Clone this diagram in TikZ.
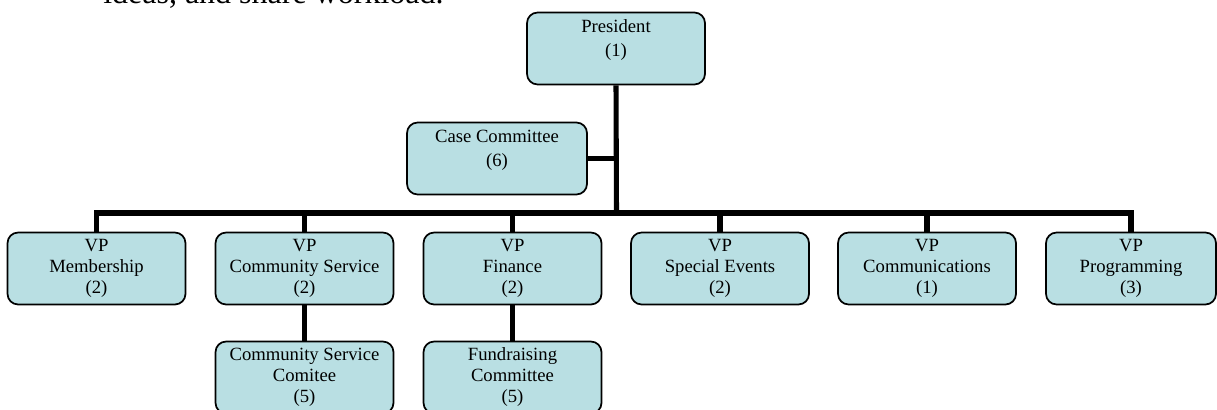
\documentclass[tikz,border=0pt]{standalone}
\usepackage{fontspec}
\setmainfont{Liberation Serif}
\definecolor{paleteal}{HTML}{B9DFE3}

\begin{document}
\begin{tikzpicture}[x=0.75pt, y=-0.75pt,
    office/.style={draw, line width=1.3pt, rounded corners=8pt, fill=paleteal,
      minimum width=133.5pt, minimum height=54pt, align=center, inner sep=2pt,
      font=\fontsize{14}{15.75}\selectfont},
    twoline/.style={font=\fontsize{14}{18}\selectfont, text depth=15.5pt},
    wire/.style={line width=3.8pt}]
  \path [use as bounding box, clip] (0, 0) rectangle (1217, 410);
  \node [anchor=base west, inner sep=0pt, font=\fontsize{24}{28}\selectfont] (intro) at (103, 4) {ideas, and share workload.};
  % top of the chart
  \node [office, twoline] (pres) at (616, 48.5) {President\\(1)};
  \node [office, twoline, minimum width=135pt] (case) at (497, 158.5) {Case Committee\\(6)};
  % vice presidents
  \node [office] (mem) at (96.5, 268.5) {VP\\Membership\\(2)};
  \node [office] (comm) at (304.5, 268.5) {VP\\Community Service\\(2)};
  \node [office] (fin) at (512.5, 268.5) {VP\\Finance\\(2)};
  \node [office] (spec) at (720, 268.5) {VP\\Special Events\\(2)};
  \node [office] (cast) at (927, 268.5) {VP\\Communications\\(1)};
  \node [office, minimum width=127.5pt] (prog) at (1131, 268.5) {VP\\Programming\\(3)};
  % committees
  \node [office] (cscom) at (304.5, 377.5) {Community Service\\Comitee\\(5)};
  \node [office] (fund) at (512.5, 377.5) {Fundraising\\Committee\\(5)};
  \coordinate (bus) at (616.5, 213);
  \draw [wire] (pres.south) -- (bus);
  \draw [wire] (case.east) -- (case.east -| bus);
  \draw [wire] (mem.north) -- (mem.north |- bus) -| (prog.north);
  \foreach \vp in {comm, fin, spec, cast}
    \draw [wire] (\vp.north) -- (\vp.north |- bus);
  \draw [wire] (comm.south) -- (cscom.north);
  \draw [wire] (fin.south) -- (fund.north);
\end{tikzpicture}
\end{document}
